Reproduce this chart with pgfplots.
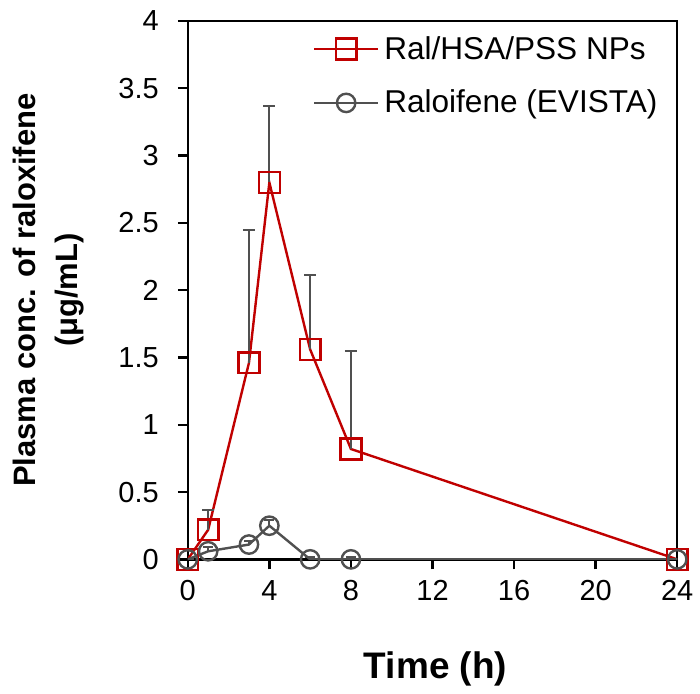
\documentclass[border=0pt]{standalone}
\usepackage{fontspec}
\setmainfont{Liberation Sans}
\usepackage{pgfplots}
\pgfplotsset{compat=1.18}
\definecolor{ralred}{RGB}{192,0,0}
\definecolor{evgray}{RGB}{80,80,80}
\begin{document}
\begin{tikzpicture}
\begin{axis}[
    name=ax,
    scale only axis,
    width=245pt, height=269.5pt,
    xmin=0, xmax=24, ymin=0, ymax=4,
    xtick={0,4,8,12,16,20,24},
    ytick={0,0.5,1,1.5,2,2.5,3,3.5,4},
    tick align=outside,
    xtick pos=bottom, ytick pos=left,
    major tick length=5pt,
    axis line style={line width=1.2pt},
    every tick/.style={line width=1.2pt, black},
    tick label style={font=\fontsize{14.5}{16}\selectfont},
    yticklabel style={xshift=-6pt},
    xticklabel style={yshift=-2pt},
    /pgf/number format/assume math mode=true,
    xlabel={Time (h)},
    ylabel={Plasma conc. of raloxifene\\(μg/mL)},
    every axis x label/.style={at={(rel axis cs:0.5,0)}, anchor=center,
        yshift=-55pt, xshift=1.5pt, font=\fontsize{18.5}{22}\selectfont\bfseries},
    every axis y label/.style={at={(rel axis cs:0,0.5)}, anchor=center, rotate=90,
        yshift=69.5pt, align=center, font=\fontsize{15.5}{21}\selectfont\bfseries},
    legend style={at={(0.255,0.98)}, anchor=north west, draw=none, fill=none,
        inner sep=0pt, font=\fontsize{15.8}{18}\selectfont, row sep=10pt,
        /tikz/every odd column/.style={column sep=0.5pt}},
    legend cell align=left,
    legend image code/.code={\draw[mark repeat=2,mark phase=2]
        plot coordinates {(0pt,0pt)(16pt,0pt)(32pt,0pt)};},
]
% Ral/HSA/PSS NPs
\addplot[color=ralred, line width=1.2pt, mark=square, mark size=5.2pt,
    mark options={line width=1.2pt, fill=none},
    error bars/.cd, y dir=plus, y explicit,
    error bar style={evgray, line width=1pt},
    error mark options={rotate=90, mark size=3pt, evgray, line width=1pt}]
    coordinates {
        (0,0) +- (0,0)
        (1,0.22) +- (0,0.15)
        (3,1.46) +- (0,0.99)
        (4,2.80) +- (0,0.57)
        (6,1.56) +- (0,0.55)
        (8,0.82) +- (0,0.73)
        (24,0) +- (0,0)
    };
\addlegendentry{Ral/HSA/PSS NPs}
% Raloxifene (EVISTA)
\addplot[color=evgray, line width=1.2pt, mark=o, mark size=4.6pt,
    mark options={line width=1.2pt, fill=none},
    error bars/.cd, y dir=plus, y explicit,
    error bar style={evgray, line width=1pt},
    error mark options={rotate=90, mark size=2.5pt, evgray, line width=1pt}]
    coordinates {
        (0,0) +- (0,0)
        (1,0.06) +- (0,0.03)
        (3,0.11) +- (0,0.03)
        (4,0.25) +- (0,0.04)
        (6,0) +- (0,0.02)
        (8,0) +- (0,0.02)
        (24,0) +- (0,0)
    };
\addlegendentry{Raloifene (EVISTA)}
\end{axis}
\path ([xshift=-94pt,yshift=-67pt]ax.south west) rectangle ([xshift=11pt,yshift=10.5pt]ax.north east);
\end{tikzpicture}
\end{document}
